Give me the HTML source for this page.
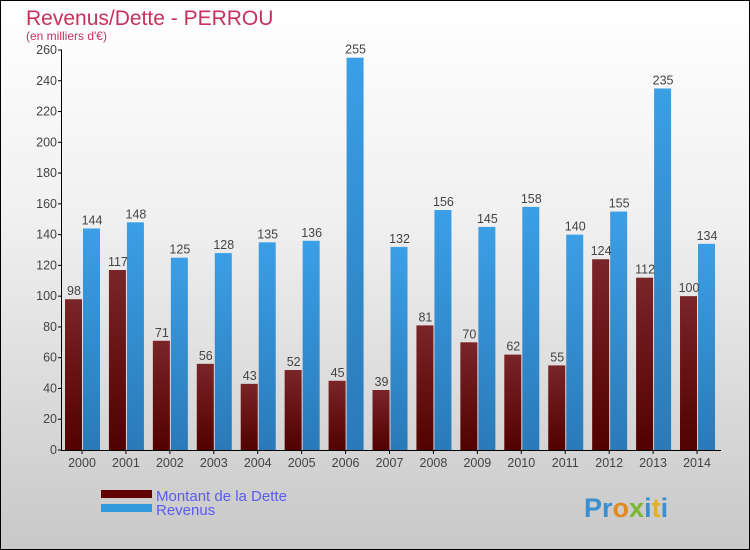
<!DOCTYPE html>
<html><head><meta charset="utf-8"><style>
body{margin:0}
#c{width:748px;height:548px;border:1px solid #000;background:linear-gradient(#ffffff,#f0f0f0 40%,#c8c8c8);position:relative;font-family:"Liberation Sans",sans-serif}
</style></head><body>
<div id="c">
<svg id="s" width="748" height="548" style="position:absolute;left:0;top:0;font-family:'Liberation Sans',sans-serif"></svg>
</div>
<script>
const years=["2000","2001","2002","2003","2004","2005","2006","2007","2008","2009","2010","2011","2012","2013","2014"];
const dette=[98,117,71,56,43,52,45,39,81,70,62,55,124,112,100];
const revenus=[144,148,125,128,135,136,255,132,156,145,158,140,155,235,134];
const ticks=[0,20,40,60,80,100,120,140,160,180,200,220,240,260];
const s=document.getElementById('s');const NS='http://www.w3.org/2000/svg';
function el(t,a,txt){const e=document.createElementNS(NS,t);for(const k in a)e.setAttribute(k,a[k]);if(txt!==undefined)e.textContent=txt;s.appendChild(e);return e;}
const y=v=>449-v*400/260;const cx=i=>81+i*43.93;
const defs=el('defs',{});
defs.innerHTML='<linearGradient id="gd" x1="0" y1="0" x2="0" y2="1"><stop offset="0" stop-color="#7a2528"/><stop offset="1" stop-color="#520000"/></linearGradient><linearGradient id="gr" x1="0" y1="0" x2="0" y2="1"><stop offset="0" stop-color="#3b9fe6"/><stop offset="1" stop-color="#2a7ab8"/></linearGradient>';
let t=el('text',{x:25,y:24,'font-size':21,fill:'#c8305e'},'Revenus/Dette - PERROU');
t=el('text',{x:25,y:39,'font-size':12,fill:'#c8305e'},"(en milliers d'€)");
ticks.forEach(v=>{let l=el('line',{x1:57,x2:61,y1:y(v),y2:y(v),stroke:'#000'});
let tt=el('text',{x:56,y:y(v)+4,'font-size':12.5,fill:'#444','text-anchor':'end'},v);});
years.forEach((yr,i)=>{const c=cx(i);
let r=el('rect',{x:c-17,y:y(dette[i]),width:17,height:449-y(dette[i]),fill:'url(#gd)'});
r=el('rect',{x:c+1,y:y(revenus[i]),width:17,height:449-y(revenus[i]),fill:'url(#gr)'});
let a=el('text',{x:c-8,y:y(dette[i])-4,'font-size':12.5,fill:'#444','text-anchor':'middle'},dette[i]);
a=el('text',{x:c+10,y:y(revenus[i])-4,'font-size':12.5,fill:'#444','text-anchor':'middle'},revenus[i]);
a=el('text',{x:c,y:466,'font-size':12.5,fill:'#444','text-anchor':'middle'},yr);
let l=el('line',{x1:c,x2:c,y1:449,y2:453,stroke:'#000'});});
let ax=el('line',{x1:60.5,x2:60.5,y1:49,y2:450,stroke:'#000'});
ax=el('line',{x1:60,x2:720,y1:449.5,y2:449.5,stroke:'#000'});
let r=el('rect',{x:100,y:489,width:51,height:8,fill:'#600000'});
r=el('rect',{x:100,y:503,width:51,height:8,fill:'#3399dd'});
t=el('text',{x:155,y:500,'font-size':15,fill:'#5b5bef'},'Montant de la Dette');
t=el('text',{x:155,y:514,'font-size':15,fill:'#5b5bef'},'Revenus');
t=el('text',{x:583,y:516,'font-size':27,'font-weight':'bold'});
t.innerHTML='<tspan fill="#3a8fd0">Pr</tspan><tspan fill="#e08a20">o</tspan><tspan fill="#7ab830">x</tspan><tspan fill="#3a8fd0">i</tspan><tspan fill="#e0b020">t</tspan><tspan fill="#3a8fd0">i</tspan>';
</script>
</body></html>
